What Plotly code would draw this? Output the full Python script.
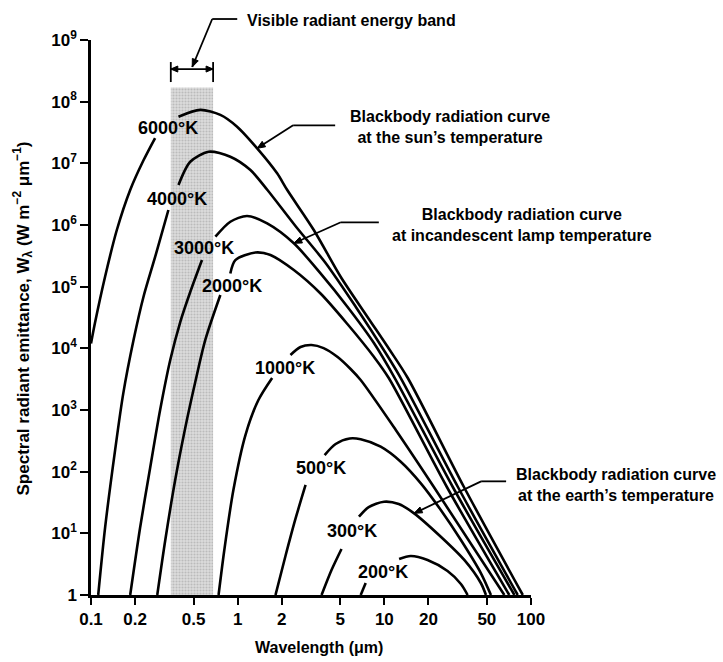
import math
import plotly.graph_objects as go

# ---------------- data ----------------
# wavelength (um) and spectral radiant emittance W_lambda (W m^-2 um^-1)
# None = break in the curve where its temperature label is written
wl_6000 = [0.1, 0.1064, 0.1247, 0.150, 0.185, 0.228, 0.2735, None,
           0.395, 0.556, 0.762, 0.991, 1.358, 1.858, 2.178, 3.304, 5.035, 7.656,
           10.89, 14.45, 34.9, 87.9]
w_6000 = [1.2e4, 2.57e4, 1.45e5, 8.3e5, 3.7e6, 1.12e7, 2.57e7, None,
          5.70e7, 7.36e7, 6.11e7, 3.93e7, 1.75e7, 6.89e6, 3.69e6, 8.30e5, 1.45e5, 3.26e4,
          9.40e3, 3.30e3, 56.4, 1]

wl_4000 = [0.112, 0.125, 0.146, 0.166, 0.195, 0.228, 0.274, 0.337, None,
           0.395, 0.475, 0.634, 0.891, 1.222, 1.596, 2.477, 3.977, 6.377, 9.908,
           12.94, 31.75, 81.2]
w_4000 = [1, 12.8, 224, 1.86e3, 1.36e4, 6.87e4, 3.06e5, 1.75e6, None,
          4.45e6, 1.06e7, 1.54e7, 1.28e7, 7.78e6, 3.69e6, 9.62e5, 2.42e5, 4.73e4, 9.40e3,
          3.30e3, 56.4, 1]

wl_3000 = [0.185, 0.216, 0.253, 0.296, 0.347, 0.406, 0.475, 0.571, None,
           0.705, 0.891, 1.159, 1.589, 2.415, 3.673, 5.598, 8.511, 11.78, 29.3, 77.1]
w_3000 = [1, 12.2, 115, 998, 6.46e3, 2.67e4, 8.18e4, 2.70e5, None,
          6.46e5, 1.13e6, 1.40e6, 1.06e6, 5.05e5, 1.64e5, 4.73e4, 1.21e4, 3.30e3, 56.4, 1]

wl_2000 = [0.283, 0.321, 0.375, 0.439, 0.514, 0.601, 0.762, None,
           0.891, 0.964, 1.321, 1.673, 2.415, 3.673, 5.598, 8.511, 10.72, 26.7, 71.1]
w_2000 = [1, 7.8, 73.3, 511, 2.84e3, 1.36e4, 7.33e4, None,
          1.64e5, 2.70e5, 3.58e5, 3.26e5, 1.86e5, 7.74e4, 2.48e4, 7.23e3, 3.30e3, 56.4, 1]

wl_1000 = [0.741, 0.811, 0.935, 1.130, 1.385, 1.718, None,
           2.291, 2.683, 3.190, 3.853, 4.803, 5.888, 6.896, 11.97, 21.76, 65.8]
w_1000 = [1, 5.37, 50.5, 393, 1.45e3, 3.30e3, None,
          7.80e3, 1.05e4, 1.13e4, 1.01e4, 7.23e3, 4.62e3, 3.06e3, 474, 56.4, 1]

wl_500 = [1.811, 2.118, 2.477, 2.904, None,
          3.917, 4.656, 5.808, 6.902, 9.441, 12.94, 17.74, 24.27, 33.27, 45.6, 53.3]
w_500 = [1, 4.29, 17.1, 60.8, None,
         186, 281, 345, 335, 254, 145, 64.7, 23.9, 7.80, 2.25, 1]

wl_300 = [3.733, 4.365, 5.105, None,
          6.714, 7.826, 9.954, 12.54, 15.96, 24.27, 35.08, 45.6, 49.3]
w_300 = [1, 2.54, 5.57, None,
         18.6, 26.7, 32.6, 29.9, 21.1, 8.81, 3.70, 1.55, 1]

wl_200 = [6.90, 7.46, None, 12.61, 15.14, 19.71, 26.98, 33.27, 36.98]
w_200 = [1, 1.57, None, 3.84, 4.29, 3.70, 2.45, 1.51, 1]

curve_labels = ['6000°K', '4000°K', '3000°K', '2000°K', '1000°K', '500°K', '300°K', '200°K']

vis_band = [0.35, 0.68]      # visible radiant energy band (um)
vis_top = 1.7e8

x_tick_vals = [0.1, 0.2, 0.5, 1, 2, 5, 10, 20, 50, 100]
x_tick_text = ['0.1', '0.2', '0.5', '1', '2', '5', '10', '20', '50', '100']
y_tick_vals = [1, 1e1, 1e2, 1e3, 1e4, 1e5, 1e6, 1e7, 1e8, 1e9]
y_tick_text = ['1', '10<sup>1</sup>', '10<sup>2</sup>', '10<sup>3</sup>', '10<sup>4</sup>',
               '10<sup>5</sup>', '10<sup>6</sup>', '10<sup>7</sup>', '10<sup>8</sup>',
               '10<sup>9</sup>']

# ---------------- figure geometry ----------------
FONT = 'Liberation Sans'
WIDTH, HEIGHT = 723, 662
ML, MR, MT, MB = 91, 192, 40, 67
PW, PH = WIDTH - ML - MR, HEIGHT - MT - MB
XR, YR = (-1, 2), (0, 9)          # log10 axis ranges

L = math.log10


def paper(lx, ly):
    """log10 data position -> paper coordinates"""
    return (lx - XR[0]) / (XR[1] - XR[0]), (ly - YR[0]) / (YR[1] - YR[0])


def off(p, dx, dy):
    """offset a paper point by screen pixels (dy positive = down)"""
    return p[0] + dx / PW, p[1] - dy / PH


fig = go.Figure()

# shaded visible band
fig.add_trace(go.Scatter(
    x=[vis_band[0], vis_band[1], vis_band[1], vis_band[0], vis_band[0]],
    y=[1, 1, vis_top, vis_top, 1],
    mode='none', fill='toself', fillcolor='#d2d2d2',
    fillpattern=dict(shape='.', size=3, solidity=0.4, fgcolor='#9a9a9a', bgcolor='#dcdcdc'),
    hoverinfo='skip', showlegend=False))

series = [(wl_6000, w_6000), (wl_4000, w_4000), (wl_3000, w_3000), (wl_2000, w_2000),
          (wl_1000, w_1000), (wl_500, w_500), (wl_300, w_300), (wl_200, w_200)]
for (xs, ys), name in zip(series, curve_labels):
    fig.add_trace(go.Scatter(x=xs, y=ys, mode='lines', name=name, connectgaps=False,
                             line=dict(color='black', width=2.6, shape='spline', smoothing=0.8),
                             showlegend=False))

ann = []
shapes = []

# temperature labels (log10 positions)
label_pos = [(-0.474, 7.573), (-0.412, 6.421), (-0.228, 5.627), (-0.036, 5.011),
             (0.326, 3.681), (0.565, 2.059), (0.777, 1.038), (0.992, 0.373)]
for txt, (lx, ly) in zip(curve_labels, label_pos):
    px, py = paper(lx, ly)
    ann.append(dict(x=px, y=py, xref='paper', yref='paper', text='<b>%s</b>' % txt,
                    showarrow=False, font=dict(family=FONT, size=18, color='black'),
                    xanchor='center', yanchor='middle'))

# callout texts
TXT = dict(family=FONT, size=16, color='black')
callouts = [
    ((1.447, 7.589), 'center', 'Blackbody radiation curve<br>at the sun\u2019s temperature'),
    ((1.939, 6.0), 'center', 'Blackbody radiation curve<br>at incandescent lamp temperature'),
    ((2.582, 1.784), 'center', 'Blackbody radiation curve<br>at the earth\u2019s temperature'),
    ((0.0526, 9.324), 'left', 'Visible radiant energy band'),
]
for (lx, ly), anchor, txt in callouts:
    px, py = paper(lx, ly)
    ann.append(dict(x=px, y=py, xref='paper', yref='paper', showarrow=False, align='center',
                    xanchor=anchor, yanchor='middle', text='<b>%s</b>' % txt, font=TXT))

LINE = dict(color='black', width=1.8)


def seg(a, b):
    shapes.append(dict(type='line', xref='paper', yref='paper', x0=a[0], y0=a[1],
                       x1=b[0], y1=b[1], line=LINE, layer='above'))


def head(tip, ux, uy, length=8, half=3.2):
    """filled arrow head at tip, pointing along screen direction (ux, uy)"""
    n = math.hypot(ux, uy)
    ux, uy = ux / n, uy / n
    nx, ny = -uy, ux
    b1 = off(tip, -length * ux + half * nx, -length * uy + half * ny)
    b2 = off(tip, -length * ux - half * nx, -length * uy - half * ny)
    path = 'M%f,%f L%f,%f L%f,%f Z' % (tip[0], tip[1], b1[0], b1[1], b2[0], b2[1])
    shapes.append(dict(type='path', xref='paper', yref='paper', path=path,
                       fillcolor='black', line=dict(color='black', width=1), layer='above'))


def leader(tip, bdx, bdy, run):
    """bent leader: horizontal run, then diagonal down to the arrow tip"""
    bend = off(tip, bdx, bdy)
    end = off(bend, run, 0)
    seg(end, bend)
    seg(bend, tip)
    head(tip, -bdx, -bdy)


leader(paper(L(wl_6000[12]), L(w_6000[12])), 36, -23, 42)
leader(paper(L(wl_3000[13]), L(w_3000[13])), 47, -21, 38)
leader(paper(L(wl_300[8]), L(w_300[8])), 67, -32, 25)

# visible band bracket (dimension line with end bars)
yb = 8.529
left = paper(L(vis_band[0]), yb)
right = paper(L(vis_band[1]), yb)
seg(left, right)
head(left, -1, 0, length=7, half=3)
head(right, 1, 0, length=7, half=3)
for p in (left, right):
    seg(off(p, 0, -7), off(p, 0, 13))
leader(paper(L(0.49), 8.562), 20, -48, 25)

# axis titles
ann.append(dict(x=0.5, y=0, xref='paper', yref='paper', xshift=8, yshift=-52,
                text='<b>Wavelength (\u03bcm)</b>', showarrow=False,
                font=dict(family=FONT, size=16, color='black'), yanchor='middle'))
ann.append(dict(x=0, y=0.5, xref='paper', yref='paper', xshift=-68, yshift=-1, textangle=-90,
                text='<b>Spectral radiant emittance, W<sub>\u03bb</sub> '
                     '(W m<sup>\u22122</sup> \u03bcm<sup>\u22121</sup>)</b>',
                showarrow=False, font=dict(family=FONT, size=17, color='black'),
                xanchor='center', yanchor='middle'))

axis_common = dict(type='log', showgrid=False, zeroline=False, showline=True, linecolor='black',
                   linewidth=2.5, ticks='outside', tickcolor='black', tickwidth=2,
                   tickfont=dict(family=FONT, size=17, color='black', weight='bold'),
                   mirror=False)

fig.update_layout(
    width=WIDTH, height=HEIGHT,
    margin=dict(l=ML, r=MR, t=MT, b=MB),
    paper_bgcolor='white', plot_bgcolor='white',
    showlegend=False,
    xaxis=dict(axis_common, range=list(XR), tickvals=x_tick_vals, ticktext=x_tick_text,
               ticklen=7),
    yaxis=dict(axis_common, range=list(YR), tickvals=y_tick_vals, ticktext=y_tick_text,
               ticklen=8),
    annotations=ann,
    shapes=shapes,
)

fig.write_html('out.html')
